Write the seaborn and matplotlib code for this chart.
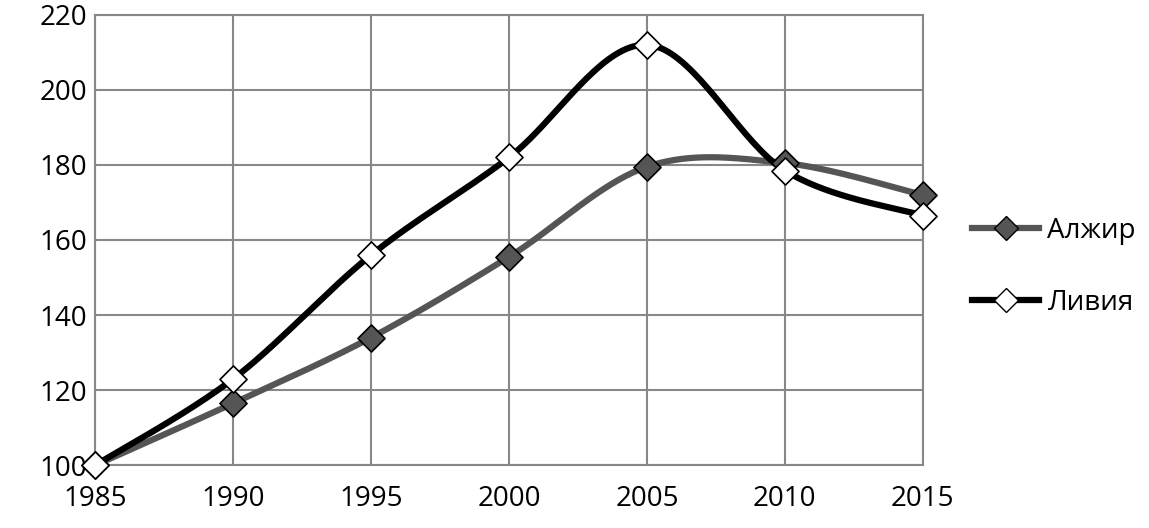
import numpy as np
import pandas as pd
import seaborn as sns
import matplotlib.pyplot as plt
from matplotlib.lines import Line2D

years = [1985, 1990, 1995, 2000, 2005, 2010, 2015]
algeria = [100, 116.5, 134, 155.5, 179.5, 180.5, 172]
libya = [100, 123, 156, 182, 212, 178.5, 166.5]


def smooth(x, y, n=40):
    # Catmull-Rom spline, similar to Excel's smoothed lines
    x = np.asarray(x, float)
    y = np.asarray(y, float)
    px = np.r_[x[0], x, x[-1]]
    py = np.r_[y[0], y, y[-1]]
    xs, ys = [], []
    t = np.linspace(0, 1, n)
    for i in range(1, len(px) - 2):
        for p, out in ((px, xs), (py, ys)):
            p0, p1, p2, p3 = p[i - 1], p[i], p[i + 1], p[i + 2]
            out.extend(0.5 * (2 * p1 + (-p0 + p2) * t
                              + (2 * p0 - 5 * p1 + 4 * p2 - p3) * t ** 2
                              + (-p0 + 3 * p1 - 3 * p2 + p3) * t ** 3))
    return np.array(xs), np.array(ys)


plt.rcParams['font.family'] = 'Open Sans'
fig = plt.figure(figsize=(11.49, 5.28), dpi=100)
ax = fig.add_axes([0.083, 0.119, 0.72, 0.853])

series = [('Алжир', algeria, '#555555', '#555555'),
          ('Ливия', libya, '#000000', 'white')]
handles = []
for name, vals, lc, mc in series:
    sx, sy = smooth(years, vals)
    sns.lineplot(x=sx, y=sy, ax=ax, color=lc, lw=4.5, sort=False, zorder=3)
    sc = sns.scatterplot(x=years, y=vals, ax=ax, marker='D', s=190, color=mc,
                         edgecolor='black', linewidth=1.2, zorder=4)
    handles.append(Line2D([], [], color=lc, lw=4.5, marker='D', markersize=12,
                          markerfacecolor=mc, markeredgecolor='black', label=name))
for c in ax.collections:
    c.set_clip_on(False)

ax.set_xlim(1985, 2015)
ax.set_ylim(100, 220)
ax.set_xticks(years)
ax.set_yticks(range(100, 221, 20))
ax.grid(True, color='#888888', lw=1.5)
for s in ax.spines.values():
    s.set_color('#888888')
    s.set_linewidth(1.5)
ax.tick_params(labelsize=20, length=0)
ax.tick_params(axis='x', pad=14)
ax.tick_params(axis='y', pad=6)
ax.legend(handles=handles, loc='center left', bbox_to_anchor=(1.03, 0.44),
          frameon=False, fontsize=20, handlelength=2.4, labelspacing=1.6,
          handletextpad=0.3)
fig.savefig('out.png', dpi=100)
